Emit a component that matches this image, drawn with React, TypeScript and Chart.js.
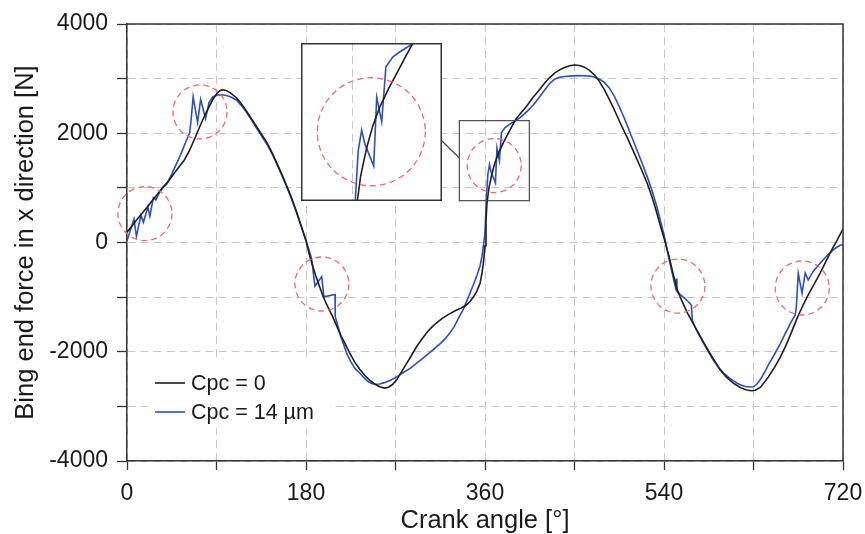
import React, { useEffect, useRef } from 'react';
import { Chart, registerables } from 'chart.js';

Chart.register(...registerables);

// ---------- data ----------
const blackAngle = [0, 5, 10, 15, 20, 25, 30, 36, 42, 48, 53, 58, 63, 68, 73, 78, 83, 87, 91, 94, 97, 100, 104, 110, 115, 120, 125, 130, 135, 141, 146, 150, 155, 160, 165, 170, 175, 180, 184, 190, 197, 202, 207, 215, 220, 224, 229, 234, 239, 244, 249, 254, 259, 263, 267, 271, 275, 280, 285, 291, 296, 302, 307, 311, 317, 323, 330, 336, 341, 345, 349, 352, 355, 357, 358.5, 360, 361, 362, 364, 367, 370, 373.6, 378, 382, 386, 390, 395, 402, 408, 415, 420, 425, 430, 435, 440, 445, 450, 455, 460, 465, 470, 475, 480, 485, 490, 496, 503, 510, 517, 523, 528, 532, 536, 540, 545, 549, 553, 558, 563, 568, 573, 579, 585, 590, 596, 603, 610, 617, 623, 628, 632, 637, 641, 645, 651, 657, 663, 668, 674, 680, 685, 691, 697, 703, 708, 714, 720];
const blackForce = [190, 300, 420, 530, 640, 760, 870, 1010, 1130, 1280, 1400, 1520, 1690, 1900, 2115, 2320, 2500, 2640, 2740, 2785, 2795, 2780, 2740, 2650, 2540, 2410, 2270, 2130, 1990, 1820, 1640, 1480, 1280, 1060, 840, 590, 310, 30, -265, -620, -980, -1180, -1365, -1700, -1880, -2025, -2190, -2320, -2430, -2518, -2590, -2640, -2665, -2650, -2600, -2518, -2400, -2250, -2100, -1914, -1780, -1640, -1540, -1474, -1390, -1320, -1250, -1200, -1150, -1080, -980, -880, -748, -560, -350, -60, 400, 720, 1000, 1260, 1460, 1640, 1810, 1950, 2090, 2228, 2350, 2500, 2650, 2800, 2920, 3020, 3100, 3160, 3205, 3235, 3250, 3240, 3210, 3150, 3070, 2950, 2800, 2620, 2430, 2188, 1920, 1640, 1350, 1090, 830, 590, 330, 80, -250, -560, -850, -1070, -1270, -1440, -1603, -1800, -1990, -2140, -2320, -2470, -2580, -2660, -2700, -2715, -2705, -2650, -2560, -2460, -2290, -2100, -1870, -1650, -1380, -1140, -960, -760, -559, -340, -160, 40, 250];

const blueAngle = [0, 3, 7, 9.5, 14, 16.5, 21, 23, 26.5, 29, 32, 36, 40, 45, 48, 51.6, 56, 60, 63, 64.5, 66.5, 71, 74, 79, 82.5, 86, 90, 95, 100, 105, 110, 115, 120, 125, 130, 135, 141, 146, 150, 155, 160, 165, 170, 175, 180, 185.6, 189, 195.8, 198, 209.2, 209.4, 215, 221, 225, 229, 234, 238, 242.5, 246, 250, 254, 258, 265, 272, 278, 285, 292, 298, 304.7, 310, 315, 320, 325, 329, 333, 338, 342, 346, 349, 352, 355, 357, 358.5, 360, 361.3, 362.8, 364.5, 366, 370.5, 372, 374.5, 376.6, 380, 383.6, 390.3, 395, 400, 405, 410, 415, 420, 425, 430, 435, 440, 448, 455, 460, 465, 470, 475, 480, 485, 490, 495, 500, 506, 512, 518, 524, 529, 533, 537, 541, 545, 549, 551.5, 552.3, 553, 556, 560, 564, 567.5, 568.5, 573, 580, 585, 589.5, 595, 600, 605, 609.5, 614, 618, 622, 626.5, 630, 633, 636.6, 641, 645, 651, 656.7, 661, 665, 668, 671.8, 673, 675, 678.8, 682, 685, 690, 697, 702, 707, 712, 717, 720];
const blueForce = [30, 200, 430, 110, 500, 370, 650, 480, 820, 780, 890, 1000, 1070, 1250, 1370, 1511, 1700, 1880, 2004, 2250, 2665, 2200, 2620, 2270, 2560, 2660, 2700, 2705, 2690, 2660, 2610, 2510, 2390, 2250, 2100, 1960, 1790, 1620, 1460, 1260, 1050, 820, 570, 310, 40, -290, -797, -626, -993, -950, -1358, -1720, -2030, -2180, -2300, -2390, -2470, -2545, -2580, -2595, -2590, -2570, -2520, -2450, -2380, -2300, -2200, -2110, -2010, -1930, -1850, -1760, -1650, -1540, -1400, -1230, -1060, -880, -740, -600, -430, -250, -50, 180, 775, 1238, 1424, 1300, 1090, 1727, 1500, 2011, 2100, 2150, 2228, 2280, 2360, 2450, 2550, 2670, 2790, 2910, 2990, 3025, 3040, 3050, 3055, 3052, 3045, 3030, 2990, 2930, 2830, 2680, 2490, 2280, 2004, 1730, 1450, 1160, 890, 640, 360, 60, -300, -620, -815, -660, -900, -950, -1010, -1075, -1145, -1430, -1620, -1850, -2010, -2152, -2290, -2390, -2470, -2530, -2580, -2615, -2635, -2645, -2640, -2600, -2518, -2380, -2240, -2050, -1860, -1700, -1560, -1450, -1330, -1200, -564, -925, -559, -687, -530, -380, -280, -190, -110, -50, -40];

const seriesLabels = ['Cpc = 0', 'Cpc = 14 µm'];

// red dashed circles (centres, data units)
const circleAngle = [18, 73.4, 196, 369.3, 554, 679];
const circleForce = [530, 2390, -760, 1408, -797, -833];

// zoom window shown in the inset
const zoomAngle = [334.2, 404.6];
const zoomForce = [766, 2231];

const FONT = "'Liberation Sans', Arial, Helvetica, sans-serif";
const BLACK = '#1e1e1e';
const BLUE = '#2b4fbf';
const GRID = '#c6c6c6';
const AXIS = '#333333';
const RED = '#f26a6a';

const INSET = { left: 301, top: 43, width: 141, height: 158 };

function toPoints(xs: number[], ys: number[]) {
  return xs.map((x, i) => ({ x, y: ys[i] }));
}

function makeDatasets() {
  return [
    {
      label: seriesLabels[0],
      data: toPoints(blackAngle, blackForce),
      borderColor: BLACK,
      borderWidth: 1.6,
      pointRadius: 0,
      tension: 0,
      fill: false,
    },
    {
      label: seriesLabels[1],
      data: toPoints(blueAngle, blueForce),
      borderColor: BLUE,
      borderWidth: 1.6,
      pointRadius: 0,
      tension: 0,
      fill: false,
    },
  ];
}

function circlesPlugin(radius: number) {
  return {
    id: 'redCircles',
    afterDatasetsDraw(chart: any) {
      const { ctx, scales } = chart;
      ctx.save();
      ctx.strokeStyle = RED;
      ctx.lineWidth = 1.3;
      ctx.setLineDash([6, 4]);
      for (let i = 0; i < circleAngle.length; i++) {
        const cx = scales.x.getPixelForValue(circleAngle[i]);
        const cy = scales.y.getPixelForValue(circleForce[i]);
        ctx.beginPath();
        ctx.arc(cx, cy, radius, 0, Math.PI * 2);
        ctx.stroke();
      }
      ctx.restore();
    },
  };
}

const mainDecor = {
  id: 'mainDecor',
  afterDraw(chart: any) {
    const { ctx, chartArea, scales } = chart;
    ctx.save();
    // frame top & right
    ctx.strokeStyle = AXIS;
    ctx.lineWidth = 1.5;
    ctx.setLineDash([]);
    ctx.beginPath();
    ctx.moveTo(chartArea.left, chartArea.top);
    ctx.lineTo(chartArea.right, chartArea.top);
    ctx.lineTo(chartArea.right, chartArea.bottom);
    ctx.stroke();

    // small zoom box
    const x1 = scales.x.getPixelForValue(zoomAngle[0]);
    const x2 = scales.x.getPixelForValue(zoomAngle[1]);
    const y1 = scales.y.getPixelForValue(zoomForce[1]);
    const y2 = scales.y.getPixelForValue(zoomForce[0]);
    ctx.strokeStyle = '#4a4a4a';
    ctx.lineWidth = 1.2;
    ctx.strokeRect(x1, y1, x2 - x1, y2 - y1);
    // connector
    ctx.beginPath();
    ctx.moveTo(INSET.left + INSET.width, 141);
    ctx.lineTo(x1, 158);
    ctx.stroke();

    // legend
    ctx.fillStyle = '#ffffff';
    ctx.fillRect(150, 360, 180, 68);
    const rows = [
      { y: 383, color: BLACK, text: seriesLabels[0] },
      { y: 412, color: BLUE, text: seriesLabels[1] },
    ];
    ctx.font = `21.5px ${FONT}`;
    ctx.textBaseline = 'middle';
    ctx.textAlign = 'left';
    for (const r of rows) {
      ctx.strokeStyle = r.color;
      ctx.lineWidth = 1.6;
      ctx.beginPath();
      ctx.moveTo(155, r.y);
      ctx.lineTo(185, r.y);
      ctx.stroke();
      ctx.fillStyle = '#1a1a1a';
      ctx.fillText(r.text, 191, r.y + 1);
    }
    ctx.restore();
  },
};

const insetFrame = {
  id: 'insetFrame',
  afterDraw(chart: any) {
    const { ctx, width, height } = chart;
    ctx.save();
    ctx.strokeStyle = AXIS;
    ctx.lineWidth = 1.5;
    ctx.strokeRect(0.75, 0.75, width - 1.5, height - 1.5);
    ctx.restore();
  },
};

export default function App() {
  const mainRef = useRef<HTMLCanvasElement | null>(null);
  const insetRef = useRef<HTMLCanvasElement | null>(null);

  useEffect(() => {
    if (!mainRef.current || !insetRef.current) return;
    const tickFont = { family: FONT, size: 23 };
    const titleFont = { family: FONT, size: 25.5, lineHeight: 1 };

    const main = new Chart(mainRef.current, {
      type: 'line',
      data: { datasets: makeDatasets() as any },
      options: {
        animation: false,
        responsive: false,
        maintainAspectRatio: false,
        layout: { padding: { left: 0, right: 22, top: 24, bottom: 0 } },
        plugins: { legend: { display: false }, tooltip: { enabled: false } },
        scales: {
          x: {
            type: 'linear',
            min: 0,
            max: 720,
            ticks: {
              stepSize: 90,
              autoSkip: false,
              maxRotation: 0,
              padding: 10,
              color: '#1a1a1a',
              font: tickFont,
              callback: (v: any) => (Number(v) % 180 === 0 ? String(v) : ''),
            },
            grid: { color: GRID, lineWidth: 1, tickLength: 9, tickColor: AXIS, tickWidth: 1.3 },
            border: { display: true, color: AXIS, width: 1.5, dash: [8, 5] },
            title: { display: true, text: 'Crank angle [°]', color: '#1a1a1a', font: titleFont, padding: { top: 0, bottom: 0 } },
            afterFit: (s: any) => {
              s.height = 73;
              s.paddingLeft = 0;
              s.paddingRight = 0;
            },
          },
          y: {
            type: 'linear',
            min: -4000,
            max: 4000,
            ticks: {
              stepSize: 1000,
              autoSkip: false,
              padding: 9,
              color: '#1a1a1a',
              font: tickFont,
              callback: (v: any) => (Number(v) % 2000 === 0 ? String(v) : ''),
            },
            grid: { color: GRID, lineWidth: 1, tickLength: 10, tickColor: AXIS, tickWidth: 1.3 },
            border: { display: true, color: AXIS, width: 1.5, dash: [8, 5] },
            title: { display: true, text: 'Bing end force in x direction [N]', color: '#1a1a1a', font: titleFont, padding: { top: 13, bottom: 0 } },
            afterFit: (s: any) => {
              s.width = 127;
              s.paddingTop = 0;
              s.paddingBottom = 0;
            },
          },
        },
      } as any,
      plugins: [circlesPlugin(27), mainDecor],
    });

    const inset = new Chart(insetRef.current, {
      type: 'line',
      data: { datasets: makeDatasets() as any },
      options: {
        animation: false,
        responsive: false,
        maintainAspectRatio: false,
        layout: { padding: 0 },
        plugins: { legend: { display: false }, tooltip: { enabled: false } },
        scales: {
          x: {
            type: 'linear',
            min: zoomAngle[0],
            max: zoomAngle[1],
            ticks: { display: false, stepSize: 90, includeBounds: false },
            grid: { color: GRID, lineWidth: 1, drawTicks: false },
            border: { display: false, dash: [8, 5] },
            afterFit: (s: any) => { s.height = 0; s.paddingLeft = 0; s.paddingRight = 0; },
          },
          y: {
            type: 'linear',
            min: zoomForce[0],
            max: zoomForce[1],
            ticks: { display: false, stepSize: 1000, includeBounds: false },
            grid: { color: GRID, lineWidth: 1, drawTicks: false },
            border: { display: false, dash: [8, 5] },
            afterFit: (s: any) => { s.width = 0; s.paddingTop = 0; s.paddingBottom = 0; },
          },
        },
      } as any,
      plugins: [circlesPlugin(54), insetFrame],
    });

    return () => {
      main.destroy();
      inset.destroy();
    };
  }, []);

  return (
    <div style={{ position: 'absolute', left: 0, top: 0, width: 865, height: 534, background: '#fff' }}>
      <canvas ref={mainRef} width={865} height={534} style={{ position: 'absolute', left: 0, top: 0, width: 865, height: 534 }} />
      <div style={{ position: 'absolute', left: INSET.left, top: INSET.top, width: INSET.width, height: INSET.height, background: '#fff' }}>
        <canvas ref={insetRef} width={INSET.width} height={INSET.height} style={{ width: INSET.width, height: INSET.height, display: 'block' }} />
      </div>
    </div>
  );
}
